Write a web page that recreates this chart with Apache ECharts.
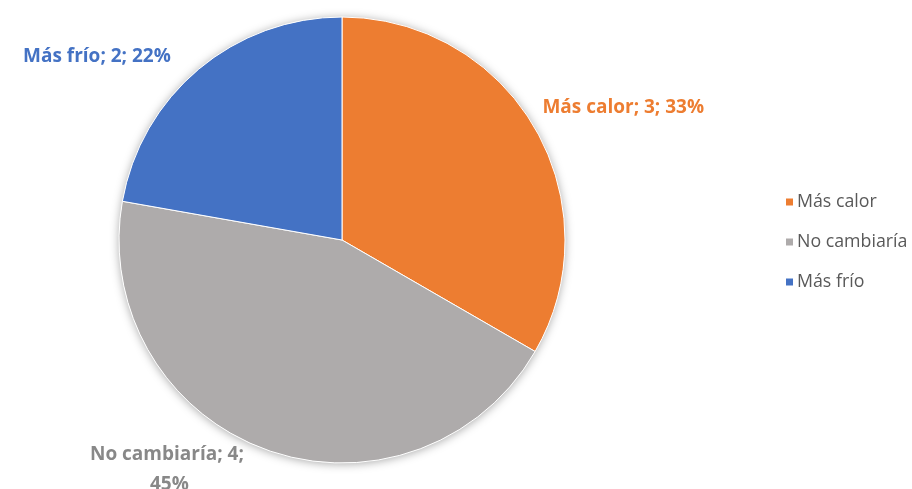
<!DOCTYPE html>
<html>
<head>
<meta charset="utf-8">
<script src="https://cdn.jsdelivr.net/npm/echarts@6/dist/echarts.min.js"></script>
<style>
  html, body { margin: 0; padding: 0; background: #fff; }
  #chart { width: 912px; height: 489px; }
</style>
</head>
<body>
<div id="chart"></div>
<script>
// Respuestas: ¿cómo cambiaría la temperatura?
const categories = ['Más calor', 'No cambiaría', 'Más frío'];
const counts = [3, 4, 2];
const percentLabels = ['33%', '45%', '22%'];
const colors = ['#ED7D31', '#AEABAB', '#4472C4'];
const labelColors = ['#ED7D31', '#888888', '#4472C4'];

const FONT = '"Open Sans", sans-serif';

// nudges and alignment applied to the outside data labels
const labelNudge = [[-25, -11], [-77, 12], [0, 3]];
const labelAlign = ['left', 'center', 'right'];

const chart = echarts.init(document.getElementById('chart'), null, { renderer: 'canvas' });

const pieData = categories.map((name, i) => ({
  name: name,
  value: counts[i],
  itemStyle: { color: colors[i] },
  label: {
    color: labelColors[i],
    width: i === 1 ? 172 : 260,
    overflow: 'break'
  }
}));

chart.setOption({
  animation: false,
  legend: {
    orient: 'vertical',
    left: 779,
    top: 187,
    icon: 'rect',
    itemWidth: 9,
    itemHeight: 9,
    itemGap: 20,
    textStyle: { color: '#595959', fontSize: 17.8, lineHeight: 20, fontFamily: FONT, padding: [0, 0, 0, -2] },
    data: categories
  },
  series: [
    {
      // soft shadow under the whole pie
      type: 'pie',
      silent: true,
      center: [342, 240],
      radius: 223,
      data: [{ value: 1, name: '' }],
      itemStyle: { color: '#ffffff', shadowBlur: 10, shadowColor: 'rgba(0,0,0,0.35)', shadowOffsetY: 1 },
      label: { show: false },
      labelLine: { show: false },
      legendHoverLink: false,
      z: 1
    },
    {
      type: 'pie',
      center: [342, 240],
      radius: 223,
      startAngle: 90,
      clockwise: true,
      z: 2,
      itemStyle: { borderColor: '#ffffff', borderWidth: 1 },
      label: {
        show: true,
        position: 'outside',
        fontFamily: FONT,
        fontWeight: 'bold',
        fontSize: 19,
        lineHeight: 30,
        formatter: p => p.name + '; ' + p.value + '; ' + percentLabels[p.dataIndex]
      },
      labelLine: { show: false, length: 20, length2: 10 },
      labelLayout: p => ({
        dx: labelNudge[p.dataIndex][0],
        dy: labelNudge[p.dataIndex][1],
        align: labelAlign[p.dataIndex]
      }),
      data: pieData
    }
  ]
});
</script>
</body>
</html>
